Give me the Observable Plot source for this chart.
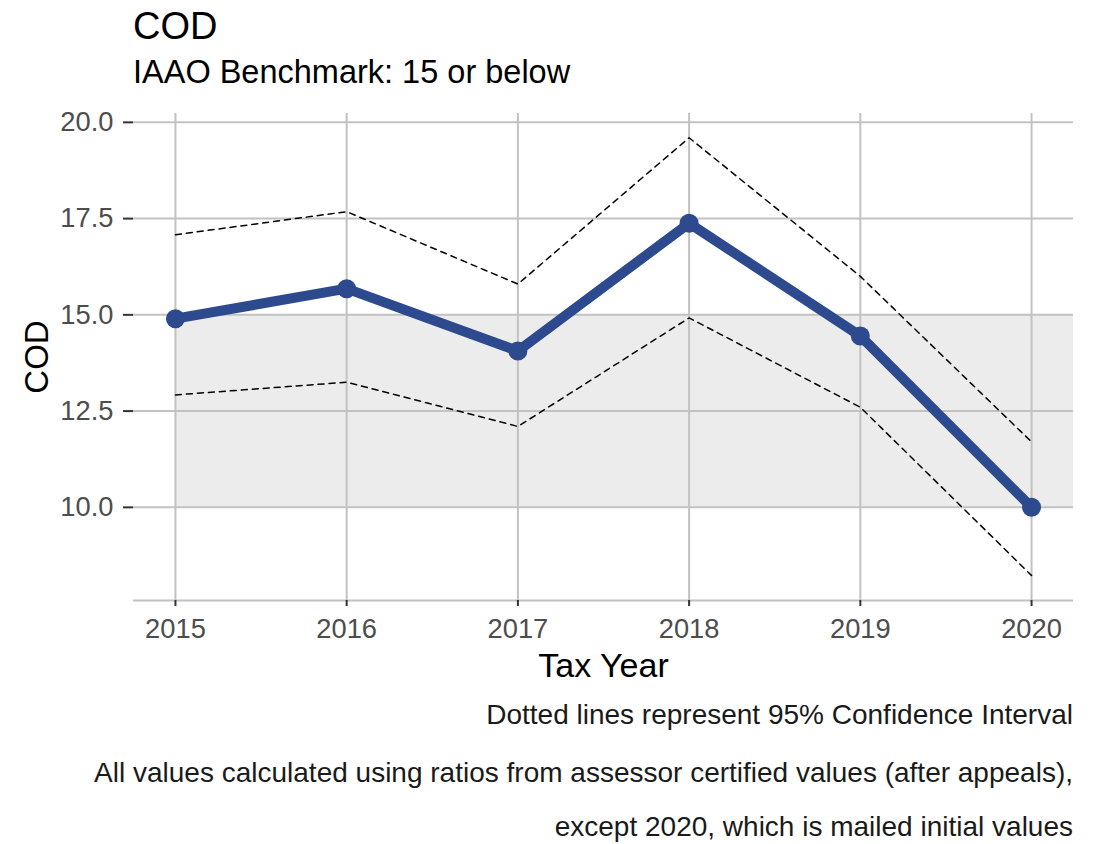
<!DOCTYPE html>
<html>
<head>
<meta charset="utf-8">
<script src="https://cdn.jsdelivr.net/npm/d3@7"></script>
<script src="https://cdn.jsdelivr.net/npm/@observablehq/plot@0.6"></script>
<style>
  html, body { margin: 0; padding: 0; background: #ffffff; }
  body { width: 1094px; height: 844px; position: relative; overflow: hidden;
         font-family: "Liberation Sans", Arial, sans-serif; }
  .txt { position: absolute; white-space: nowrap; line-height: 1; }
  #title { left: 133px; top: 7px; font-size: 38px; color: #000; }
  #subtitle { left: 133px; top: 56px; font-size: 32.5px; color: #000; }
  .cap { right: 21px; font-size: 28px; color: #1a1a1a; text-align: right; }
  #chart { position: absolute; left: 0; top: 100px; }
</style>
</head>
<body>
<div id="title" class="txt">COD</div>
<div id="subtitle" class="txt">IAAO Benchmark: 15 or below</div>
<div id="chart"></div>
<div class="txt cap" style="top:701px">Dotted lines represent 95% Confidence Interval</div>
<div class="txt cap" style="top:759px">All values calculated using ratios from assessor certified values (after appeals),</div>
<div class="txt cap" style="top:813px">except 2020, which is mailed initial values</div>
<script>
// ---- data ----
const years = [2015, 2016, 2017, 2018, 2019, 2020];
const cod   = [14.9, 15.68, 14.06, 17.38, 14.45, 10.0];
const upper = [17.08, 17.68, 15.8, 19.6, 16.0, 11.7];
const lower = [12.92, 13.25, 12.1, 14.92, 12.6, 8.23];
const yTicks = [10, 12.5, 15, 17.5, 20];
const benchmarkLow = 10;
const benchmarkHigh = 15;
const xDomain = [2014.755, 2020.245];
const yDomain = [7.58, 20.23];

const rows = years.map((year, i) => ({year, cod: cod[i], lo: lower[i], hi: upper[i]}));
const band = [{x1: years[0], x2: xDomain[1], y1: benchmarkLow, y2: benchmarkHigh}];

const gridColor = "#c2c2c2";
const lineColor = "#2e4a8f";

const chart = Plot.plot({
  width: 1094,
  height: 600,
  marginLeft: 133,
  marginRight: 21,
  marginTop: 13,
  marginBottom: 100,
  style: {fontFamily: "'Liberation Sans', Arial, sans-serif", fontSize: "27.3px", background: "#ffffff", overflow: "visible"},
  x: {domain: xDomain},
  y: {domain: yDomain},
  marks: [
    Plot.rect(band, {x1: "x1", x2: "x2", y1: "y1", y2: "y2", fill: "#ececec"}),
    Plot.gridX(years, {stroke: gridColor, strokeOpacity: 1, strokeWidth: 2}),
    Plot.gridY(yTicks, {stroke: gridColor, strokeOpacity: 1, strokeWidth: 2}),
    Plot.ruleY([yDomain[0]], {stroke: gridColor, strokeWidth: 2}),
    Plot.axisX(years, {tickSize: 6, tickPadding: 12, stroke: "#333333", strokeWidth: 2, fill: "#4d4d4d",
                       tickFormat: d => String(d), label: null}),
    Plot.axisY(yTicks, {tickSize: 10, tickPadding: 10, stroke: "#333333", strokeWidth: 2, fill: "#4d4d4d",
                        tickFormat: d3.format(".1f"), label: null}),
    Plot.line(rows, {x: "year", y: "hi", stroke: "#000", strokeWidth: 1.5, strokeDasharray: "6,5"}),
    Plot.line(rows, {x: "year", y: "lo", stroke: "#000", strokeWidth: 1.5, strokeDasharray: "6,5"}),
    Plot.line(rows, {x: "year", y: "cod", stroke: lineColor, strokeWidth: 10, strokeLinejoin: "round", strokeLinecap: "round"}),
    Plot.dot(rows, {x: "year", y: "cod", r: 9.5, fill: lineColor, stroke: "none"}),
    Plot.text(["Tax Year"], {frameAnchor: "bottom", dy: 66, lineAnchor: "middle", textAnchor: "middle",
                             fontSize: 34, fill: "#000"}),
    Plot.text(["COD"], {frameAnchor: "left", dx: -96, rotate: -90, lineAnchor: "middle", textAnchor: "middle",
                        fontSize: 33, fill: "#000"})
  ]
});
document.getElementById("chart").appendChild(chart);
</script>
</body>
</html>
